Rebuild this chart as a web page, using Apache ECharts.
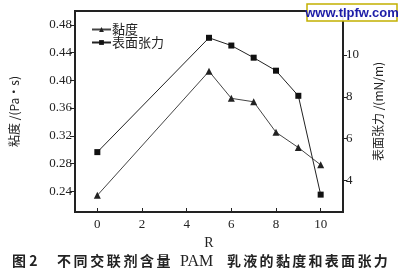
<!DOCTYPE html>
<html>
<head>
<meta charset="utf-8">
<script src="https://cdn.jsdelivr.net/npm/echarts@6/dist/echarts.min.js"></script>
<style>
  html, body { margin: 0; padding: 0; background: #fff; }
  #main { width: 401px; height: 278px; }
</style>
</head>
<body>
<div id="main"></div>
<script>
'use strict';
// 数据
var rValues = [0, 5, 6, 7, 8, 9, 10];
var viscosity = [0.234, 0.413, 0.374, 0.369, 0.325, 0.303, 0.278];
var tension = [5.36, 10.82, 10.45, 9.87, 9.25, 8.05, 3.33];
var xTicks = [0, 2, 4, 6, 8, 10];
var leftTicks = [0.24, 0.28, 0.32, 0.36, 0.40, 0.44, 0.48];
var rightTicks = [4, 6, 8, 10, 12];
var captionParts = ['图 2', '不同交联剂含量', 'PAM', '乳液的黏度和表面张力'];

var serif = '"Liberation Serif", "DejaVu Serif", serif';
var cjk = '"Noto Sans CJK SC", sans-serif';

function pairs(ys) {
    return rValues.map(function(x, i) { return [x, ys[i]]; });
}

// 图注，逐字排开
var caption = [];
caption.push({ type: 'text', left: 12, top: 254,
    style: { text: captionParts[0], font: 'bold 14px ' + cjk, fill: '#222' } });
captionParts[1].split('').forEach(function(c, i) {
    caption.push({ type: 'text', left: 57 + i * 16.6, top: 254,
        style: { text: c, font: 'bold 14px ' + cjk, fill: '#222' } });
});
caption.push({ type: 'text', left: 180, top: 254,
    style: { text: captionParts[2], font: '16px ' + serif, fill: '#222' } });
captionParts[3].split('').forEach(function(c, i) {
    caption.push({ type: 'text', left: 227 + i * 16.3, top: 254,
        style: { text: c, font: 'bold 14px ' + cjk, fill: '#222' } });
});

var chart = echarts.init(document.getElementById('main'));
var option = {
    backgroundColor: '#fff',
    animation: false,
    grid: { left: 74, right: 58, top: 11, bottom: 66, show: true,
        borderColor: '#222', borderWidth: 2, backgroundColor: 'transparent' },
    legend: {
        left: 86, top: 18, orient: 'vertical', itemGap: 0,
        itemWidth: 19, itemHeight: 6,
        textStyle: { fontFamily: cjk, fontSize: 13, color: '#222', padding: [0, 0, 0, -4] },
        data: ['黏度', '表面张力']
    },
    xAxis: {
        type: 'value', min: -1, max: 11,
        name: 'R', nameLocation: 'middle', nameGap: 15,
        nameTextStyle: { fontFamily: serif, fontSize: 14, color: '#222' },
        axisLine: { lineStyle: { color: '#222', width: 2 } },
        axisTick: { inside: true, length: 4, customValues: xTicks, lineStyle: { color: '#222' } },
        axisLabel: { customValues: xTicks, margin: 6, fontFamily: serif, fontSize: 13, color: '#222' },
        splitLine: { show: false }
    },
    yAxis: [{
        type: 'value', min: 0.21, max: 0.50, position: 'left',
        name: '粘度 /(Pa·s)', nameLocation: 'middle', nameGap: 55,
        nameTextStyle: { fontFamily: cjk, fontSize: 12, color: '#222' },
        axisLine: { show: true, onZero: false, lineStyle: { color: '#222', width: 2 } },
        axisTick: { show: true, length: 5, customValues: leftTicks, lineStyle: { color: '#222' } },
        axisLabel: { customValues: leftTicks, margin: 3, fontFamily: serif, fontSize: 13, color: '#222',
            formatter: function(v) { return v.toFixed(2); } },
        splitLine: { show: false }
    }, {
        type: 'value', min: 2.5, max: 12.1, position: 'right',
        name: '表面张力 /(mN/m)', nameLocation: 'middle', nameGap: 29,
        nameTextStyle: { fontFamily: cjk, fontSize: 12, color: '#222' },
        axisLine: { show: true, onZero: false, lineStyle: { color: '#222', width: 2 } },
        axisTick: { show: true, length: 4, customValues: rightTicks, lineStyle: { color: '#222' } },
        axisLabel: { customValues: rightTicks, margin: 3, fontFamily: serif, fontSize: 13, color: '#222' },
        splitLine: { show: false }
    }],
    series: [{
        name: '黏度', type: 'line', yAxisIndex: 0,
        data: pairs(viscosity),
        symbol: 'triangle', symbolSize: 7,
        itemStyle: { color: '#222' },
        lineStyle: { color: '#444', width: 1 }
    }, {
        name: '表面张力', type: 'line', yAxisIndex: 1,
        data: pairs(tension),
        symbol: 'rect', symbolSize: 6,
        itemStyle: { color: '#111' },
        lineStyle: { color: '#222', width: 1 }
    }],
    graphic: caption.concat([{
        type: 'rect', shape: { x: 307, y: 4, width: 90, height: 17 },
        style: { fill: 'rgba(255,255,255,0.92)', stroke: '#c2b000', lineWidth: 1.5 },
        z: 100
    }, {
        type: 'text', x: 352, y: 13, z: 101,
        style: { text: 'www.tlpfw.com', font: 'bold 13px "Liberation Sans", sans-serif',
            fill: '#1c1ca8', align: 'center', verticalAlign: 'middle' }
    }])
};
chart.setOption(option);
</script>
</body>
</html>
